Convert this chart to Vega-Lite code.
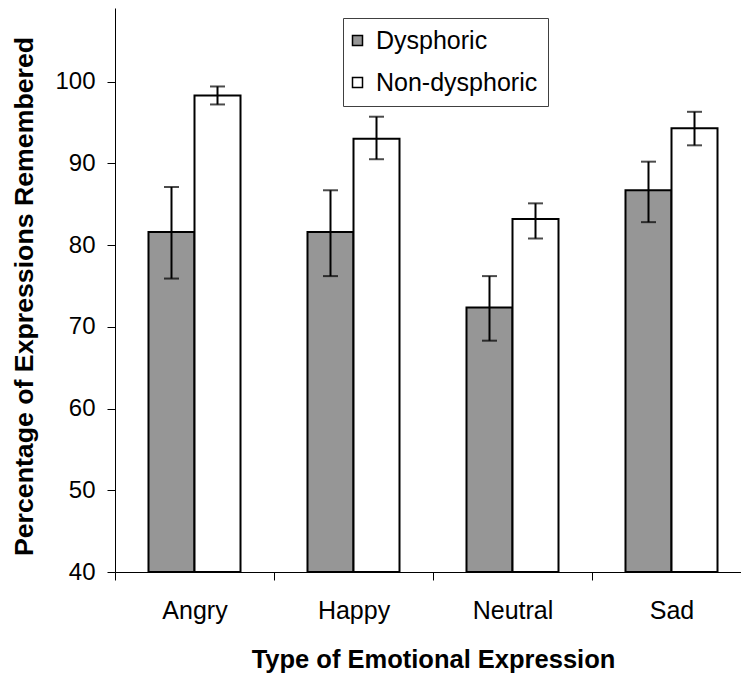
{
  "$schema": "https://vega.github.io/schema/vega-lite/v6.json",
  "autosize": {"type": "none"},
  "padding": {"left": 115, "top": 8, "right": 0, "bottom": 107},
  "width": 636,
  "height": 564,
  "background": "white",
  "config": {
    "view": {"stroke": null},
    "font": "Liberation Sans",
    "axis": {"grid": false, "domainColor": "black", "tickColor": "black", "labelColor": "black", "titleColor": "black", "labelFont": "Liberation Sans", "titleFont": "Liberation Sans"}
  },
  "data": {
    "values": [
      {"expr": "Angry", "group": "Dysphoric", "value": 81.6, "lo": 75.9, "hi": 87.1},
      {"expr": "Angry", "group": "Non-dysphoric", "value": 98.3, "lo": 97.2, "hi": 99.4},
      {"expr": "Happy", "group": "Dysphoric", "value": 81.6, "lo": 76.2, "hi": 86.7},
      {"expr": "Happy", "group": "Non-dysphoric", "value": 93.0, "lo": 90.5, "hi": 95.7},
      {"expr": "Neutral", "group": "Dysphoric", "value": 72.35, "lo": 68.3, "hi": 76.2},
      {"expr": "Neutral", "group": "Non-dysphoric", "value": 83.2, "lo": 80.8, "hi": 85.1},
      {"expr": "Sad", "group": "Dysphoric", "value": 86.7, "lo": 82.8, "hi": 90.2},
      {"expr": "Sad", "group": "Non-dysphoric", "value": 94.3, "lo": 92.2, "hi": 96.3}
    ]
  },
  "encoding": {
    "x": {
      "field": "expr", "type": "nominal",
      "scale": {"domain": ["Angry", "Happy", "Neutral", "Sad"], "paddingInner": 0, "paddingOuter": 0},
      "axis": {"title": "Type of Emotional Expression", "labelAngle": 0, "tickBand": "extent", "tickSize": 8, "labelFontSize": 25, "labelPadding": 18, "titleFontSize": 25.5, "titleFontWeight": "bold", "titlePadding": 24}
    },
    "xOffset": {"field": "group", "type": "nominal", "scale": {"domain": ["Dysphoric", "Non-dysphoric"], "paddingInner": 0, "paddingOuter": 0.728}}
  },
  "layer": [
    {
      "mark": {"type": "bar", "stroke": "black", "strokeWidth": 2},
      "encoding": {
        "y": {
          "field": "value", "type": "quantitative",
          "scale": {"domain": [40, 109], "nice": false, "zero": false, "clamp": true},
          "axis": {"title": "Percentage of Expressions Remembered", "values": [40, 50, 60, 70, 80, 90, 100], "tickSize": 8, "labelFontSize": 24, "labelPadding": 12, "titleFontSize": 26.7, "titleFontWeight": "bold", "titlePadding": 16, "titleY": 288}
        },
        "fill": {
          "field": "group", "type": "nominal",
          "scale": {"domain": ["Dysphoric", "Non-dysphoric"], "range": ["#969696", "white"]},
          "legend": {
            "title": null, "orient": "none", "legendX": 228, "legendY": 10,
            "strokeColor": "#404040", "fillColor": "white", "padding": 10,
            "symbolType": "square", "symbolSize": 100, "symbolStrokeColor": "black", "symbolStrokeWidth": 1.5, "symbolOffset": -8,
            "labelFontSize": 25, "labelFont": "Liberation Sans", "labelColor": "black", "labelOffset": 6, "labelLimit": 400, "rowPadding": 16
          }
        }
      }
    },
    {
      "mark": {"type": "rule", "color": "black", "strokeWidth": 2},
      "encoding": {
        "y": {"field": "lo", "type": "quantitative"},
        "y2": {"field": "hi"}
      }
    },
    {
      "mark": {"type": "point", "shape": "M-1,0L1,0", "size": 225, "stroke": "black", "strokeWidth": 2, "filled": false},
      "encoding": {"y": {"field": "lo", "type": "quantitative"}}
    },
    {
      "mark": {"type": "point", "shape": "M-1,0L1,0", "size": 225, "stroke": "black", "strokeWidth": 2, "filled": false},
      "encoding": {"y": {"field": "hi", "type": "quantitative"}}
    }
  ]
}
